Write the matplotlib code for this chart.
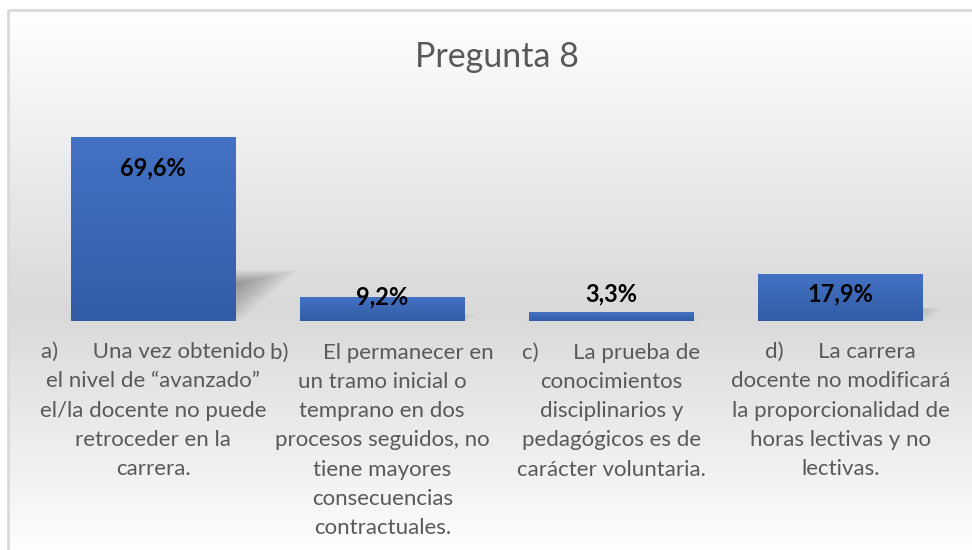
import numpy as np
import matplotlib.pyplot as plt
from matplotlib.patches import Polygon, Rectangle
from matplotlib.colors import to_rgb

plt.rcParams['font.family'] = ['Lato', 'DejaVu Sans']

title = "Pregunta 8"
categories = [
    "a)      Una vez obtenido\nel nivel de “avanzado”\nel/la docente no puede\nretroceder en la\ncarrera.",
    "b)      El permanecer en\nun tramo inicial o\ntemprano en dos\nprocesos seguidos, no\ntiene mayores\nconsecuencias\ncontractuales.",
    "c)      La prueba de\nconocimientos\ndisciplinarios y\npedagógicos es de\ncarácter voluntaria.",
    "d)      La carrera\ndocente no modificará\nla proporcionalidad de\nhoras lectivas y no\nlectivas.",
]
values = [69.6, 9.2, 3.3, 17.9]
labels = ["69,6%", "9,2%", "3,3%", "17,9%"]
# where Excel put each data label (pixels relative to bar top)
label_dy = [-31, 0, 18, -20]

W, H = 972, 550
fig = plt.figure(figsize=(W / 100, H / 100), dpi=100)

# background: chart area with vertical gradient and thin border
bg = fig.add_axes([0, 0, 1, 1])
bg.axis('off')
stops_y = [10, 310, 560]
stops_c = [to_rgb('#ffffff'), to_rgb('#d9d9d9'), to_rgb('#ffffff')]
yy = np.linspace(10, H, 400)
grad = np.stack([np.interp(yy, stops_y, [c[k] for c in stops_c]) for k in range(3)], axis=-1)
bg.imshow(grad[:, None, :], extent=[8, W, H, 10], aspect='auto', zorder=0)
bg.add_patch(Rectangle((8, 10), W, H, fill=False, ec='#d9d9d9', lw=2, zorder=1))
bg.set_xlim(0, W)
bg.set_ylim(H, 0)

bg.text(497, 57, title, ha='center', va='center', fontsize=24.5, color='#595959')

ax = fig.add_axes([38.5 / W, (H - 321) / H, 916.5 / W, 211.5 / H])
ax.patch.set_visible(False)
x = np.arange(len(values))
bw = 0.716
bars = ax.bar(x, values, width=bw, color='#4472c4', zorder=3)

top = np.array(to_rgb('#4472c4'))
bot = np.array(to_rgb('#325ca6'))
g = np.linspace(0, 1, 100)[:, None]
bar_grad = (top * (1 - g) + bot * g)[:, None, :]
for r in bars:
    x0, y0 = r.get_x(), r.get_y()
    im = ax.imshow(bar_grad, extent=[x0, x0 + r.get_width(), y0, y0 + r.get_height()],
                   aspect='auto', zorder=3.5)
    im.set_clip_path(r)

    # soft perspective shadow
    v = r.get_height()
    sk = 0.0036 * v
    sh = 0.27 * v
    pts = np.array([[x0, 0], [x0 + bw, 0], [x0 + bw + sk, sh], [x0 + sk, sh]])
    c = pts.mean(axis=0)
    for s in np.linspace(1.05, 0.45, 14):
        ax.add_patch(Polygon(c + (pts - c) * s, closed=True, fc='black', ec='none',
                             alpha=0.028, zorder=2))

for i, r in enumerate(bars):
    ax.annotate(labels[i], (r.get_x() + bw / 2, r.get_height()), xytext=(0, label_dy[i]),
                textcoords='offset pixels', ha='center', va='center',
                fontsize=17, fontweight='bold', color='black', zorder=5)
    ax.annotate(categories[i], (i, 0), xytext=(0, -21), textcoords='offset pixels',
                ha='center', va='top', fontsize=16, color='#595959',
                linespacing=1.58, annotation_clip=False)

ax.set_xlim(-0.5, len(values) - 0.5)
ax.set_ylim(0, 80)
ax.axis('off')

fig.savefig('out.png', dpi=100)
